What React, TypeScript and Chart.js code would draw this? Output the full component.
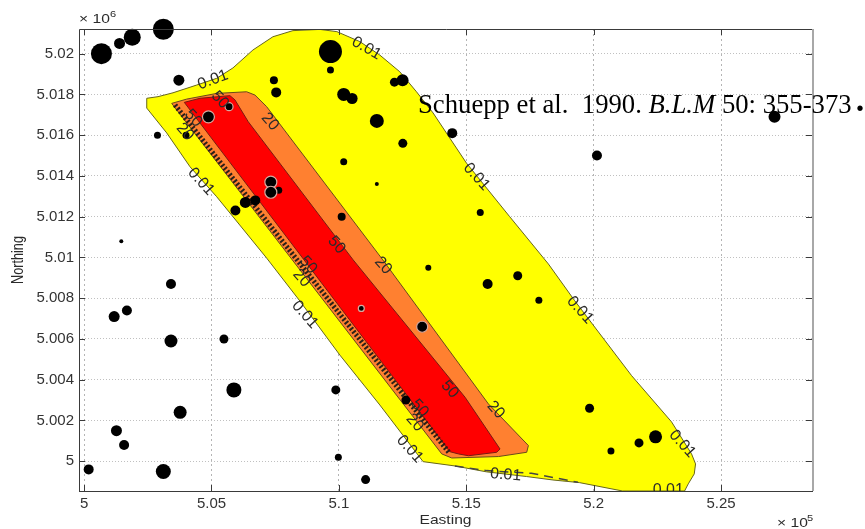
import React, { useEffect, useRef } from "react";
import { Chart, registerables } from "chart.js";

Chart.register(...registerables);

const xTickValues = [5, 5.05, 5.1, 5.15, 5.2, 5.25];
const yTickValues = [5, 5.002, 5.004, 5.006, 5.008, 5.01, 5.012, 5.014, 5.016, 5.018, 5.02];

// Contour outlines: easting (x 10^5), northing (x 10^6)
const yellowE = [5.02459, 5.02902, 5.0349, 5.0442, 5.05204, 5.05843, 5.06627, 5.07412, 5.08196, 5.09255, 5.09922, 5.10824, 5.11608, 5.12392, 5.13047, 5.13698, 5.15008, 5.16706, 5.18224, 5.19255, 5.2149, 5.23059, 5.23843, 5.24, 5.23949, 5.23714, 5.23569, 5.21137, 5.19451, 5.18404, 5.17361, 5.15792, 5.14549, 5.13306, 5.11608, 5.10039, 5.08471, 5.07165, 5.05843, 5.05204, 5.04157, 5.03243, 5.02459, 5.02459];
const yellowN = [5.01781, 5.01789, 5.01808, 5.01846, 5.01879, 5.0193, 5.02018, 5.02083, 5.02113, 5.02119, 5.02108, 5.02059, 5.01993, 5.01911, 5.01813, 5.01709, 5.01463, 5.012, 5.00968, 5.00788, 5.0042, 5.00193, 5.00036, 4.99987, 4.99938, 4.99889, 4.99854, 4.99854, 4.99895, 4.99908, 4.99925, 4.99948, 4.99977, 4.99998, 5.00276, 5.00521, 5.00786, 5.00997, 5.012, 5.01298, 5.01445, 5.01611, 5.01733, 5.01781];
const orangeE = [5.03439, 5.04027, 5.05204, 5.0638, 5.06706, 5.07165, 5.11725, 5.15871, 5.17439, 5.17373, 5.16263, 5.14431, 5.14039, 5.03439];
const orangeN = [5.01756, 5.01777, 5.01805, 5.01813, 5.01797, 5.0174, 5.00988, 5.00281, 5.00077, 5.00044, 5.00023, 5.00016, 5.00036, 5.01756];
const redE = [5.03933, 5.04549, 5.05725, 5.05922, 5.06443, 5.10561, 5.14953, 5.16326, 5.16196, 5.15086, 5.14694, 5.14353, 5.03933];
const redN = [5.01761, 5.01781, 5.01794, 5.01773, 5.01666, 5.00988, 5.00314, 5.0006, 5.00044, 5.00027, 5.00036, 5.00047, 5.01761];
const hatchE = [5.03569, 5.14314];
const hatchN = [5.01748, 5.00044];
const dashE = [5.14549, 5.15792, 5.17557, 5.19385];
const dashN = [4.99977, 4.99954, 4.99941, 4.99897];

const dotE = [5.0068, 5.0139, 5.0189, 5.0311, 5.0372, 5.0967, 5.0967, 5.0745, 5.0754, 5.1218, 5.125, 5.1019, 5.1052, 5.1149, 5.1251, 5.1019, 5.1149, 5.1011, 5.0288, 5.04, 5.0764, 5.0672, 5.0633, 5.0594, 5.0146, 5.1445, 5.1584, 5.1702, 5.1785, 5.1984, 5.2178, 5.2243, 5.2068, 5.0341, 5.0118, 5.0168, 5.0341, 5.0549, 5.0588, 5.0377, 5.0127, 5.0157, 5.0311, 5.0018, 5.0988, 5.0998, 5.1105, 5.1263, 5.1351, 5.1555, 5.2013, 5.271];
const dotN = [5.02, 5.0205, 5.0208, 5.0212, 5.0187, 5.0201, 5.0192, 5.0187, 5.0181, 5.0186, 5.0187, 5.018, 5.0178, 5.0167, 5.0156, 5.0147, 5.0136, 5.012, 5.016, 5.016, 5.0133, 5.0128, 5.0127, 5.0123, 5.0108, 5.0161, 5.0087, 5.0091, 5.0079, 5.0026, 5.0009, 5.0012, 5.0005, 5.0087, 5.0071, 5.0074, 5.0059, 5.006, 5.0035, 5.0024, 5.0015, 5.0008, 4.9995, 4.9996, 5.0035, 5.0002, 4.9991, 5.003, 5.0095, 5.0122, 5.015, 5.0169];
const dotSize = [10.5, 5.5, 8.5, 10.5, 5.5, 11.5, 3.5, 4, 5, 4.5, 6, 6.5, 5.5, 7, 4.5, 3.5, 2, 4, 3.5, 3.5, 3.5, 5, 5.5, 5, 2, 5, 5, 4.5, 3.5, 4.5, 4.5, 6.5, 3.5, 5, 5.5, 5, 6.5, 4.5, 7.5, 6.5, 5.5, 5, 7.5, 5, 4.5, 3.5, 4.5, 4.5, 3, 3.5, 5, 6];
const ringE = [5.0488, 5.0569, 5.0733, 5.0733, 5.1088, 5.1327];
const ringN = [5.0169, 5.0174, 5.0137, 5.0132, 5.0075, 5.0066];
const ringSize = [6, 4, 6, 6, 3, 5.5];

const contourTexts = ["0.01", "0.01", "0.01", "0.01", "0.01", "0.01", "0.01", "0.01", "0.01", "0.01", "20", "20", "20", "20", "20", "20", "50", "50", "50", "50", "50", "50"];
const contourE = [5.05059, 5.11086, 5.04588, 5.08667, 5.154, 5.19463, 5.23478, 5.12784, 5.16549, 5.22929, 5.07294, 5.11737, 5.16157, 5.03961, 5.08537, 5.12981, 5.05333, 5.04286, 5.0991, 5.14353, 5.08796, 5.13176];
const contourN = [5.01871, 5.02026, 5.01372, 5.00719, 5.01396, 5.00742, 5.00085, 5.0006, 4.99933, 4.99856, 5.01666, 5.0096, 5.00252, 5.01616, 5.00898, 5.00189, 5.01773, 5.01683, 5.01061, 5.00353, 5.00963, 5.0026];
const contourAngle = [-20, 30, 48, 48, 48, 48, 48, 48, 5, 0, 48, 48, 48, 48, 48, 48, 48, 48, 48, 48, 48, 48];

const noteParts = ["Schuepp et al.  1990. ", "B.L.M", " 50: 355-373"];
const noteBullet = "\u2022";
const xAxisTitle = "Easting";
const yAxisTitle = "Northing";

const line = (e: number[], n: number[]) => e.map((x, i) => ({ x, y: n[i] }));

const stretched = (ctx: any, t: string, x: number, y: number, size: number) => {
  ctx.save();
  ctx.translate(x, y);
  ctx.scale(1.23, 1);
  ctx.font = `${size}px "Liberation Sans"`;
  ctx.fillText(t, 0, 0);
  ctx.restore();
};

const overlay = {
  id: "overlay",
  afterDatasetsDraw(chart: any) {
    const { ctx, scales, chartArea } = chart;
    ctx.save();

    // rotated contour labels
    ctx.save();
    ctx.beginPath();
    ctx.rect(chartArea.left, chartArea.top, chartArea.right - chartArea.left, chartArea.bottom - chartArea.top);
    ctx.clip();
    ctx.fillStyle = "#2b2b2b";
    ctx.font = '16px "Liberation Sans"';
    ctx.textAlign = "center";
    ctx.textBaseline = "middle";
    contourTexts.forEach((t, i) => {
      ctx.save();
      ctx.translate(scales.x.getPixelForValue(contourE[i]), scales.y.getPixelForValue(contourN[i]));
      ctx.rotate((contourAngle[i] * Math.PI) / 180);
      ctx.fillText(t, 0, 0);
      ctx.restore();
    });
    ctx.restore();

    // frame and inward ticks
    ctx.strokeStyle = "#3a3a3a";
    ctx.lineWidth = 1;
    ctx.beginPath();
    ctx.moveTo(chartArea.left + 0.5, chartArea.bottom + 0.5);
    ctx.lineTo(chartArea.left + 0.5, chartArea.top + 0.5);
    ctx.lineTo(chartArea.right, chartArea.top + 0.5);
    ctx.moveTo(chartArea.left, chartArea.bottom + 0.5);
    ctx.lineTo(chartArea.right, chartArea.bottom + 0.5);
    for (const v of xTickValues) {
      const x = Math.round(scales.x.getPixelForValue(v)) + 0.5;
      ctx.moveTo(x, chartArea.top);
      ctx.lineTo(x, chartArea.top + 6);
      ctx.moveTo(x, chartArea.bottom);
      ctx.lineTo(x, chartArea.bottom - 6);
    }
    for (const v of yTickValues) {
      const y = Math.round(scales.y.getPixelForValue(v)) + 0.5;
      ctx.moveTo(chartArea.left, y);
      ctx.lineTo(chartArea.left + 6, y);
      ctx.moveTo(chartArea.right, y);
      ctx.lineTo(chartArea.right - 7, y);
    }
    ctx.stroke();
    ctx.strokeStyle = "#a8a8a8";
    ctx.lineWidth = 2;
    ctx.beginPath();
    ctx.moveTo(chartArea.right, chartArea.top);
    ctx.lineTo(chartArea.right, chartArea.bottom);
    ctx.stroke();

    // axis exponents and titles
    ctx.fillStyle = "#2b2b2b";
    ctx.textBaseline = "alphabetic";
    ctx.textAlign = "left";
    stretched(ctx, "\u00d7 10", 79, 23, 12.7);
    stretched(ctx, "6", 110, 17, 9);
    stretched(ctx, "\u00d7 10", 777, 527, 12.7);
    stretched(ctx, "5", 807, 521, 9);
    ctx.textAlign = "center";
    stretched(ctx, xAxisTitle, 445.5, 524, 12.7);
    ctx.save();
    ctx.translate(23, 260);
    ctx.rotate(-Math.PI / 2);
    ctx.scale(1, 1.25);
    ctx.font = '12.7px "Liberation Sans"';
    ctx.fillText(yAxisTitle, 0, 0);
    ctx.restore();

    // citation
    ctx.textAlign = "left";
    ctx.fillStyle = "#000";
    let tx = 418;
    noteParts.forEach((p, i) => {
      ctx.font = (i === 1 ? "italic " : "") + '26.7px "Liberation Serif"';
      ctx.fillText(p, tx, 113);
      tx += ctx.measureText(p).width;
    });
    ctx.textAlign = "center";
    ctx.font = '20px "Liberation Sans"';
    ctx.fillText(noteBullet, 860, 115);
    ctx.restore();
  },
};

export default function App() {
  const ref = useRef<HTMLCanvasElement | null>(null);
  useEffect(() => {
    const chart = new Chart(ref.current!, {
      type: "scatter",
      data: {
        datasets: [
          {
            type: "bubble",
            label: "towers in footprint",
            data: ringE.map((x, i) => ({ x, y: ringN[i], r: ringSize[i] })),
            backgroundColor: "#000",
            borderColor: "#d6a9a0",
            borderWidth: 1.2,
            order: 0,
          },
          {
            type: "bubble",
            label: "towers",
            data: dotE.map((x, i) => ({ x, y: dotN[i], r: dotSize[i] })),
            backgroundColor: "#000",
            borderWidth: 0,
            clip: false,
            order: 1,
          },
          {
            label: "hatch",
            data: line(hatchE, hatchN),
            showLine: true,
            pointRadius: 0,
            borderColor: "#2a2018",
            borderWidth: 5,
            borderDash: [2, 2],
            order: 2,
          },
          {
            label: "50",
            data: line(redE, redN),
            showLine: true,
            pointRadius: 0,
            borderColor: "#7a1a10",
            borderWidth: 1,
            backgroundColor: "#ff0000",
            fill: "shape",
            order: 3,
          },
          {
            label: "20",
            data: line(orangeE, orangeN),
            showLine: true,
            pointRadius: 0,
            borderColor: "#6a4a1a",
            borderWidth: 1,
            backgroundColor: "#ff8030",
            fill: "shape",
            order: 4,
          },
          {
            label: "gap",
            data: line(dashE, dashN),
            showLine: true,
            pointRadius: 0,
            borderColor: "#444",
            borderWidth: 1.5,
            borderDash: [9, 6],
            order: 5,
          },
          {
            label: "0.01",
            data: line(yellowE, yellowN),
            showLine: true,
            pointRadius: 0,
            borderColor: "#66661a",
            borderWidth: 1,
            backgroundColor: "#ffff00",
            fill: "shape",
            order: 6,
          },
        ],
      } as any,
      options: {
        animation: false,
        responsive: false,
        events: [],
        layout: { padding: { top: 29, right: 52, left: 0, bottom: 0 } },
        plugins: { legend: { display: false }, tooltip: { enabled: false } },
        scales: {
          x: {
            type: "linear",
            min: 4.998,
            max: 5.2861,
            afterFit: (s: any) => { s.height = 38; },
            afterBuildTicks: (s: any) => { s.ticks = xTickValues.map((value) => ({ value })); },
            grid: { color: "#b4b4b4", lineWidth: 1, drawTicks: false },
            border: { display: false, dash: [2, 3] },
            ticks: {
              color: "#333",
              padding: 4,
              maxRotation: 0,
              font: { family: "Liberation Sans", size: 15 },
              callback: (v: any) => String(v),
            },
          },
          y: {
            type: "linear",
            min: 4.99854,
            max: 5.02121,
            afterFit: (s: any) => { s.width = 79; },
            afterBuildTicks: (s: any) => { s.ticks = yTickValues.map((value) => ({ value })); },
            grid: { color: "#c0c0c0", lineWidth: 1, drawTicks: false },
            border: { display: false, dash: [1, 2] },
            ticks: {
              color: "#333",
              padding: 5,
              font: { family: "Liberation Sans", size: 15 },
              callback: (v: any) => String(v),
            },
          },
        },
      },
      plugins: [overlay],
    } as any);
    return () => chart.destroy();
  }, []);
  return (
    <canvas
      ref={ref}
      width={865}
      height={529}
      style={{ position: "absolute", left: 0, top: 0, width: 865, height: 529 }}
    />
  );
}
